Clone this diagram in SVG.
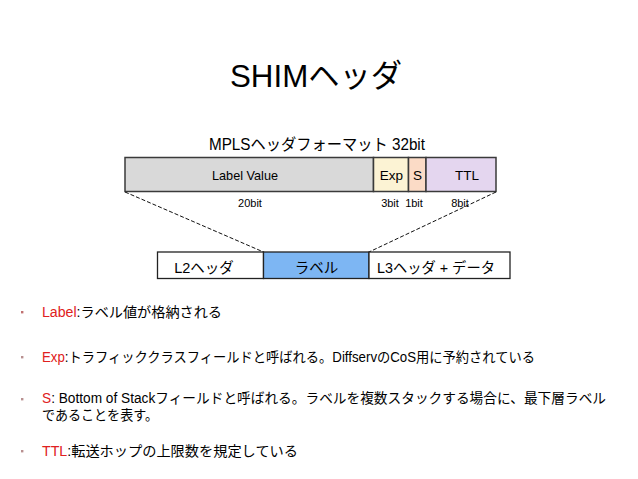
<svg xmlns="http://www.w3.org/2000/svg" width="638" height="479" viewBox="0 0 638 479">
<style>
text{font-family:"Liberation Sans","Noto Sans CJK JP",sans-serif;fill:#000}
.cell{stroke:#3a3a3a;stroke-width:1.5}
.bcell{stroke:#222;stroke-width:1.3}
.lbl{font-size:13.5px;text-anchor:middle}
.bit{font-size:11px;text-anchor:middle}
.blbl{font-size:14.5px;text-anchor:middle}
.bul{font-size:14px}
.red{fill:#e02020}
.dot{fill:#b89090}
.conn{stroke:#111;stroke-width:1;stroke-dasharray:4 2;fill:none}
</style>
<rect width="638" height="479" fill="#fff"/>
<text x="316" y="87" font-size="32" text-anchor="middle" textLength="172" lengthAdjust="spacingAndGlyphs">SHIMヘッダ</text>
<text x="317" y="150" font-size="16" text-anchor="middle" textLength="216" lengthAdjust="spacingAndGlyphs">MPLSヘッダフォーマット 32bit</text>

<g id="label-value">
<rect class="cell" x="125" y="157.5" width="248.5" height="34" fill="#d9d9d9"/>
<text class="lbl" x="245" y="180" textLength="66" lengthAdjust="spacingAndGlyphs">Label Value</text>
<text class="bit" x="250" y="207">20bit</text>
</g>
<g id="exp">
<rect class="cell" x="373.5" y="157.5" width="35" height="34" fill="#fcf3d4"/>
<text class="lbl" x="391.5" y="180">Exp</text>
<text class="bit" x="390" y="207">3bit</text>
</g>
<g id="s">
<rect class="cell" x="408.5" y="157.5" width="17.5" height="34" fill="#fbdbc6"/>
<text class="lbl" x="417.5" y="180">S</text>
<text class="bit" x="414" y="207">1bit</text>
</g>
<g id="ttl">
<rect class="cell" x="426" y="157.5" width="70" height="34" fill="#e4d6ef"/>
<text class="lbl" x="467" y="180">TTL</text>
<text class="bit" x="460" y="207">8bit</text>
</g>

<g id="connectors">
<line class="conn" x1="125" y1="192" x2="263.5" y2="252"/>
<line class="conn" x1="496" y1="192" x2="369" y2="252"/>
</g>

<g id="l2">
<rect class="bcell" x="157.5" y="252" width="106" height="26.5" fill="#fff"/>
<text class="blbl" x="204" y="273">L2ヘッダ</text>
</g>
<g id="label">
<rect class="bcell" x="263.5" y="252" width="105.5" height="26.5" fill="#7db6f3"/>
<text class="blbl" x="316.5" y="273">ラベル</text>
</g>
<g id="l3">
<rect class="bcell" x="369" y="252" width="141" height="26.5" fill="#fff"/>
<text class="blbl" x="436" y="273" textLength="118" lengthAdjust="spacingAndGlyphs">L3ヘッダ + データ</text>
</g>

<g id="bullets">
<rect x="21" y="311" width="2.4" height="2.4" fill="#c07070"/>
<text class="bul" x="42" y="317" textLength="180" lengthAdjust="spacingAndGlyphs"><tspan class="red">Label</tspan>:ラベル値が格納される</text>
<rect class="dot" x="21" y="356" width="2.4" height="2.4"/>
<text class="bul" x="42" y="362" textLength="493" lengthAdjust="spacingAndGlyphs"><tspan class="red">Exp</tspan>:トラフィッククラスフィールドと呼ばれる。DiffservのCoS用に予約されている</text>
<rect class="dot" x="21" y="398" width="2.4" height="2.4"/>
<text class="bul" x="42" y="403" textLength="564" lengthAdjust="spacingAndGlyphs"><tspan class="red">S</tspan>: Bottom of Stackフィールドと呼ばれる。ラベルを複数スタックする場合に、最下層ラベル</text>
<text class="bul" x="42" y="420" textLength="116" lengthAdjust="spacingAndGlyphs">であることを表す。</text>
<rect class="dot" x="21" y="450" width="2.4" height="2.4"/>
<text class="bul" x="42" y="456" textLength="256" lengthAdjust="spacingAndGlyphs"><tspan class="red">TTL</tspan>:転送ホップの上限数を規定している</text>
</g>
</svg>
